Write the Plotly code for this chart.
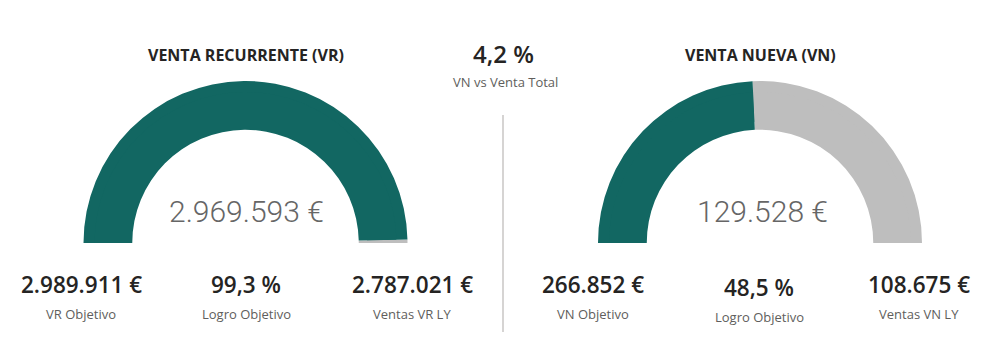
import plotly.graph_objects as go

# ---- data ----
gauge_titles = ["VENTA RECURRENTE (VR)", "VENTA NUEVA (VN)"]
gauge_values = [2969593, 129528]
gauge_targets = [2989911, 266852]
kpi_labels_vr = ["VR Objetivo", "Logro Objetivo", "Ventas VR LY"]
kpi_labels_vn = ["VN Objetivo", "Logro Objetivo", "Ventas VN LY"]
ly_values = [2787021, 108675]
center_label = "VN vs Venta Total"

TEAL = "#126762"
GRAY = "#BEBEBE"
W, H = 991, 355


def eur(v):
    return f"{v:,.0f}".replace(",", ".") + " €"


def pct(v):
    return f"{v*100:.1f}".replace(".", ",") + " %"


fig = go.Figure()

centers = [245.5, 760]
cy = 243
# outer ring layer and inner ring layer (plotly gauge thickness is fixed at 25% of radius)
for R in [162, 151]:
    for i in range(2):
        cx = centers[i]
        fig.add_trace(go.Indicator(
            mode="gauge",
            value=gauge_values[i],
            domain=dict(x=[(cx - R) / W, (cx + R) / W], y=[(H - cy) / H, (H - cy + R) / H]),
            gauge=dict(
                shape="angular",
                axis=dict(range=[0, gauge_targets[i]], visible=False),
                bar=dict(color=TEAL, thickness=1, line=dict(width=0)),
                bgcolor="rgba(0,0,0,0)",
                borderwidth=0,
                steps=[dict(range=[gauge_values[i], gauge_targets[i]], color=GRAY,
                            thickness=1, line=dict(width=0))],
            ),
        ))

ann = []


def txt(x, y, text, size, color, weight="normal", family="Open Sans"):
    ann.append(dict(x=x / W, y=1 - y / H, xref="paper", yref="paper", text=text,
                    showarrow=False, xanchor="center", yanchor="middle",
                    font=dict(size=size, color=color, family=family, weight=weight)))


# titles
txt(246, 55, gauge_titles[0], 16, "#252423", "bold")
txt(760, 55, gauge_titles[1], 16, "#252423", "bold")
share = gauge_values[1] / (gauge_values[0] + gauge_values[1])
txt(503, 53, pct(share), 24, "#252423", 600)
txt(505, 82, center_label, 13, "#605E5C")

# gauge numbers
txt(246, 211, eur(gauge_values[0]), 30, "#666666", 300, "Roboto")
txt(762, 211, eur(gauge_values[1]), 30, "#666666", 300, "Roboto")

# KPIs
vr_vals = [eur(gauge_targets[0]), pct(gauge_values[0] / gauge_targets[0]), eur(ly_values[0])]
vn_vals = [eur(gauge_targets[1]), pct(gauge_values[1] / gauge_targets[1]), eur(ly_values[1])]
for x, v, l in zip([81, 246, 412], vr_vals, kpi_labels_vr):
    txt(x, 284, v, 22.5, "#252423", 600)
    txt(x, 314, l, 13, "#605E5C")
for x, v, l, dy in zip([593, 759, 919], vn_vals, kpi_labels_vn, [0, 3, 0]):
    txt(x, 284 + dy, v, 22.5, "#252423", 600)
    txt(x, 314 + dy, l, 13, "#605E5C")

fig.update_layout(
    width=W, height=H,
    margin=dict(l=0, r=0, t=0, b=0),
    paper_bgcolor="white", plot_bgcolor="white",
    annotations=ann,
    shapes=[dict(type="line", xref="paper", yref="paper",
                 x0=503 / W, x1=503 / W, y0=1 - 115 / H, y1=1 - 332 / H,
                 line=dict(color="#C8C6C4", width=1.5))],
)

fig.write_html("out.html", config={"displayModeBar": False},
               post_script="document.body.style.margin='0';")
